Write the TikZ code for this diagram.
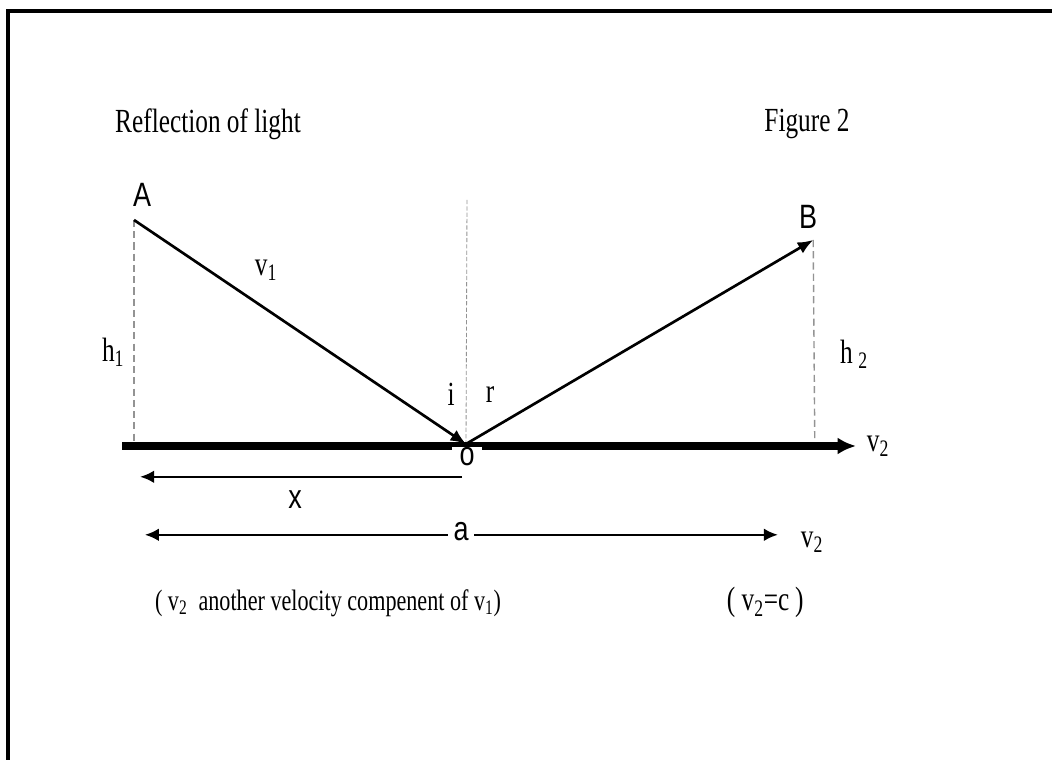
\documentclass[tikz,border=0pt]{standalone}
\usepackage{fontspec}
\setmainfont{Liberation Serif}[FakeStretch=0.75]
\newfontfamily\labelfont{Liberation Sans}[FakeStretch=0.8]
\usetikzlibrary{arrows.meta}
\colorlet{guidegray}{gray!85}
\begin{document}
\begin{tikzpicture}[>=Latex,
  serif/.style={font=\fontsize{24}{26}\selectfont},
  notefont/.style={font=\fontsize{21}{24}\selectfont},
  sans/.style={font=\labelfont\fontsize{24}{26}\selectfont},
  ray/.style={line width=1.9pt,-{Latex[length=11pt,width=9pt]}},
  guide/.style={guidegray,dash pattern=on 5pt off 3pt,line width=1pt},
  normal/.style={guidegray,dash pattern=on 3pt off 1.5pt,line width=0.6pt},
  mirror/.style={line width=5pt,-{Latex[length=13pt,width=12pt]}},
  span/.style={line width=1.8pt}]
\useasboundingbox (0,0) rectangle (26.3,19);
\clip (0,0) rectangle (26.3,19);
% ---- frame (cut by the page edge) ----
\draw[line width=2.2pt] (27,18.725) -- (0.2,18.725) -- (0.2,-1);
% ---- points ----
\coordinate (A) at (3.35,13.5);
\coordinate (O) at (11.65,7.9);
\coordinate (B) at (20.33,13.0);
\coordinate (Afoot) at (3.35,7.85);
\coordinate (Bfoot) at (20.37,7.85);
\coordinate (Ntop) at (11.675,14.0);
\coordinate (Mleft) at (3.05,7.85);
\coordinate (Mright) at (21.4,7.85);
% ---- titles ----
\node[serif] (title) at (5.2,15.9) {Reflection of light};
\node[serif] (fig) at (20.175,15.9) {Figure 2};
% ---- heights and normal ----
\draw[guide] (A) -- (Afoot);
\draw[guide] (B) -- (Bfoot);
\draw[normal] (Ntop) -- (O);
\node[serif] (h1) at (2.83,10.2) {h\textsubscript{1}};
\node[serif] (h2) at (21.35,10.15) {h\,\textsubscript{2}};
% ---- mirror ----
\draw[mirror] (Mleft) -- (Mright);
\node[serif,anchor=west] (v2m) at (21.55,7.85) {v\textsubscript{2}};
\node[sans,fill=white,inner ysep=0.5pt,minimum width=0.75cm,anchor=north] (o) at (11.68,7.83) {o};
% ---- rays ----
\draw[ray] (A) -- (O);
\draw[ray] (O) -- (B);
\node[sans] (Alab) at (3.55,14.13) {A};
\node[sans] (Blab) at (20.2,13.58) {B};
\node[serif] (v1) at (6.65,12.25) {v\textsubscript{1}};
\node[serif] (i) at (11.28,9.13) {i};
\node[serif] (r) at (12.25,9.13) {r};
% ---- distances ----
\coordinate (Xr) at (11.55,7.08);
\coordinate (Xl) at (3.5,7.08);
\draw[span,-{Latex[length=10pt,width=9pt]}] (Xr) -- (Xl);
\node[sans] (x) at (7.38,6.5) {x};
\coordinate (Al) at (3.62,5.63);
\coordinate (Ar) at (19.45,5.63);
\draw[span,{Latex[length=10pt,width=9pt]}-{Latex[length=10pt,width=9pt]}] (Al) -- (Ar);
\node[sans,fill=white,inner xsep=4pt,inner ysep=1pt] (a) at (11.53,5.72) {a};
\node[serif,anchor=west] (v2a) at (19.9,5.45) {v\textsubscript{2}};
% ---- notes ----
\node[notefont] (note) at (8.2,3.93) {( v\textsubscript{2}\ \ another velocity compenent of v\textsubscript{1})};
\node[serif] (eq) at (19.13,3.93) {( v\textsubscript{2}=c\,)};
\end{tikzpicture}
\end{document}
